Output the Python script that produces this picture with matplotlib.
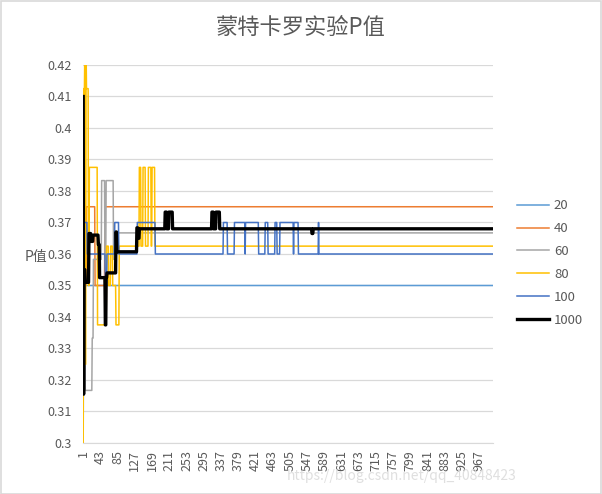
import numpy as np
import matplotlib
matplotlib.use("Agg")
import matplotlib.pyplot as plt
from matplotlib.patches import Rectangle

plt.rcParams['font.family'] = ['Noto Sans CJK SC', 'DejaVu Sans']

# x categories: trial index 1..1000
n_points = 1000
x_tick_step = 42

series_names = ['20', '40', '60', '80', '100', '1000']
series_colors = ['#5B9BD5', '#ED7D31', '#A5A5A5', '#FFC000', '#4472C4', '#000000']
series_widths = [1.1, 1.1, 1.1, 1.1, 1.1, 2.4]

# each series is kept as (value, run length) pairs
p20_vals = [0.30, 0.35]
p20_runs = [1, 999]

p40_vals = [0.325, 0.35, 0.375, 0.35, 0.375]
p40_runs = [2, 6, 21, 24, 947]

p60_vals = [0.35, 0.3167, 0.3333, 0.3583, 0.3833, 0.3583, 0.3833, 0.3583, 0.3667]
p60_runs = [5, 17, 3, 20, 8, 3, 18, 6, 920]

p80_vals = [0.30, 0.4125, 0.425, 0.325, 0.425, 0.4125, 0.35, 0.3875, 0.3375, 0.3625,
            0.35, 0.3625, 0.35, 0.3375, 0.3625, 0.3875, 0.3625, 0.3875, 0.3625, 0.3875,
            0.3625, 0.3875, 0.3625]
p80_runs = [1, 3, 1, 2, 1, 5, 2, 20, 22, 5,
            5, 5, 8, 8, 49, 4, 5, 6, 7, 7,
            2, 7, 825]

p100_vals = [0.37, 0.36, 0.35, 0.36, 0.37, 0.36, 0.37, 0.36, 0.37, 0.36,
             0.37, 0.36, 0.37, 0.36, 0.37, 0.36, 0.37, 0.36, 0.37, 0.36,
             0.37, 0.36, 0.37, 0.36]
p100_runs = [10, 44, 4, 19, 10, 45, 44, 166, 10, 17,
             26, 1, 32, 16, 7, 17, 5, 7, 33, 1,
             11, 49, 1, 425]

p1000_vals = [0.41, 0.3155, 0.355, 0.351, 0.3665, 0.364, 0.366, 0.363, 0.3525, 0.3375,
              0.3525, 0.354, 0.367, 0.3607, 0.3683, 0.365, 0.368, 0.3733, 0.368, 0.3733,
              0.368, 0.3733, 0.368, 0.3733, 0.368, 0.3665, 0.368]
p1000_runs = [1, 1, 3, 9, 5, 5, 13, 3, 14, 2,
              2, 22, 2, 49, 3, 3, 63, 4, 5, 9,
              96, 4, 6, 9, 225, 3, 439]

series_vals = [p20_vals, p40_vals, p60_vals, p80_vals, p100_vals, p1000_vals]
series_runs = [p20_runs, p40_runs, p60_runs, p80_runs, p100_runs, p1000_runs]

text_color = '#595959'
grid_color = '#D9D9D9'

fig = plt.figure(figsize=(6.02, 4.94), dpi=100)
fig.patch.set_facecolor('white')
fig.patches.append(Rectangle((0.001, 0.001), 0.997, 0.997, transform=fig.transFigure,
                             fill=False, edgecolor=grid_color, linewidth=1.2))

ax = fig.add_axes([83 / 602, 1 - 443 / 494, 410 / 602, 378 / 494])
x = np.arange(1, n_points + 1)
for name, vals, runs, color, lw in zip(series_names, series_vals, series_runs,
                                       series_colors, series_widths):
    y = np.repeat(vals, runs)
    ax.plot(x, y, color=color, linewidth=lw, label=name)

ax.set_xlim(0.5, n_points + 0.5)
ax.set_ylim(0.3, 0.42)
yt = np.round(np.arange(0.30, 0.4201, 0.01), 2)
ax.set_yticks(yt)
ax.set_yticklabels([f'{v:g}' for v in yt])
xt = list(range(1, n_points + 1, x_tick_step))
ax.set_xticks(xt)
ax.set_xticklabels([str(v) for v in xt], rotation=90)
ax.tick_params(axis='both', length=0, colors=text_color, labelsize=9)
ax.tick_params(axis='y', pad=8)
ax.tick_params(axis='x', pad=5)
ax.grid(axis='y', color=grid_color, linewidth=0.9)
ax.set_axisbelow(True)
for side in ['top', 'right', 'left']:
    ax.spines[side].set_visible(False)
ax.spines['bottom'].set_color(grid_color)

fig.text(0.5, 1 - 27 / 494, '蒙特卡罗实验P值', ha='center', va='center',
         fontsize=16, color=text_color)
fig.text(36 / 602, 1 - 257 / 494, 'P值', ha='center', va='center',
         fontsize=10, color=text_color)

leg = fig.legend(loc='center left', bbox_to_anchor=(517 / 602, 1 - 263 / 494),
                 frameon=False, fontsize=9.5, handlelength=2.4, handletextpad=0.4,
                 labelspacing=0.75, borderpad=0, borderaxespad=0)
for t in leg.get_texts():
    t.set_color(text_color)

fig.text(517 / 602, 1 - 476 / 494, 'https://blog.csdn.net/qq_40848423', ha='right',
         va='center', fontsize=10, color='#dcdcdc', alpha=0.9)

fig.savefig('out.png', dpi=100)
